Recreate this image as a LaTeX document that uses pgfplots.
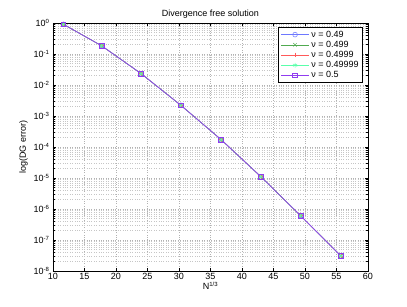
\documentclass[border=0pt]{standalone}
\usepackage{fontspec}
\setmainfont{Liberation Sans}
\usepackage{pgfplots}
\pgfplotsset{compat=1.18}
\definecolor{cA}{RGB}{110,120,255}
\definecolor{cB}{RGB}{80,170,80}
\definecolor{cC}{RGB}{255,90,90}
\definecolor{cD}{RGB}{90,255,170}
\definecolor{cE}{RGB}{145,60,240}
\begin{document}
\begin{tikzpicture}[font=\fontsize{9}{10.5}\selectfont]
\begin{axis}[
  at={(0,0)}, anchor=south west,
  scale only axis, width=315pt, height=248pt,
  xmin=10, xmax=60, ymode=log, ymin=1e-8, ymax=1,
  xtick={10,15,20,25,30,35,40,45,50,55,60},
  ytick={1e-8,1e-7,1e-6,1e-5,1e-4,1e-3,1e-2,1e-1,1},
  yticklabels={10\textsuperscript{-8},10\textsuperscript{-7},10\textsuperscript{-6},10\textsuperscript{-5},10\textsuperscript{-4},10\textsuperscript{-3},10\textsuperscript{-2},10\textsuperscript{-1},10\textsuperscript{0}},
  /pgf/number format/assume math mode=true,
  tick align=inside,
  major tick length=3pt, minor tick length=1.6pt,
  tick style={black, line width=0.4pt},
  axis line style={line width=0.5pt},
  grid=both,
  major grid style={dotted, gray!60, line width=0.4pt},
  minor grid style={dotted, gray!45, line width=0.4pt},
  minor x tick num=0,
  title={Divergence free solution},
  title style={yshift=-5pt},
  xlabel={N\textsuperscript{1/3}},
  xlabel style={yshift=5pt},
  ylabel={log(DG error)},
  ylabel style={yshift=-1pt},
  xticklabel style={yshift=1pt},
  legend style={at={(0.984,0.984)}, anchor=north east, draw=black, line width=0.5pt,
    font=\fontsize{9}{10.5}\selectfont, row sep=-1.6pt, inner xsep=2pt, inner ysep=1.5pt},
  legend cell align=left,
  legend image code/.code={\draw[mark repeat=2,mark phase=2,#1] plot coordinates {(0pt,0pt) (14pt,0pt) (28pt,0pt)};},
  every axis plot/.append style={line width=0.5pt, mark size=2.4pt},
]
\addplot[cA, mark=o] coordinates {(11.65,0.908) (17.7,0.185) (24.0,0.0232) (30.3,2.21e-3) (36.7,1.72e-4) (43.0,1.10e-5) (49.3,6.08e-7) (55.7,3.05e-8)};
\addlegendentry{ν = 0.49}
\addplot[cB, mark=x] coordinates {(11.65,0.908) (17.7,0.185) (24.0,0.0232) (30.3,2.21e-3) (36.7,1.72e-4) (43.0,1.10e-5) (49.3,6.08e-7) (55.7,3.05e-8)};
\addlegendentry{ν = 0.499}
\addplot[cC, mark=+] coordinates {(11.65,0.908) (17.7,0.185) (24.0,0.0232) (30.3,2.21e-3) (36.7,1.72e-4) (43.0,1.10e-5) (49.3,6.08e-7) (55.7,3.05e-8)};
\addlegendentry{ν = 0.4999}
\addplot[cD, mark=asterisk] coordinates {(11.65,0.908) (17.7,0.185) (24.0,0.0232) (30.3,2.21e-3) (36.7,1.72e-4) (43.0,1.10e-5) (49.3,6.08e-7) (55.7,3.05e-8)};
\addlegendentry{ν = 0.49999}
\addplot[cE, mark=square, line width=0.7pt] coordinates {(11.65,0.908) (17.7,0.185) (24.0,0.0232) (30.3,2.21e-3) (36.7,1.72e-4) (43.0,1.10e-5) (49.3,6.08e-7) (55.7,3.05e-8)};
\addlegendentry{ν = 0.5}
\end{axis}
\useasboundingbox (-53pt,-35pt) rectangle (354pt,271pt);
\end{tikzpicture}
\end{document}
